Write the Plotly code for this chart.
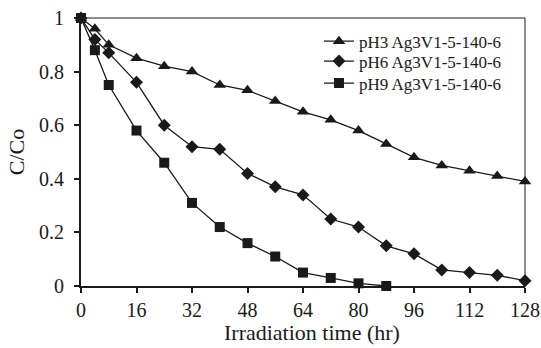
import plotly.graph_objects as go

time_ph3 = [0, 4, 8, 16, 24, 32, 40, 48, 56, 64, 72, 80, 88, 96, 104, 112, 120, 128]
ph3 = [1, 0.96, 0.9, 0.85, 0.82, 0.8, 0.75, 0.73, 0.69, 0.65, 0.62, 0.58, 0.53, 0.48, 0.45, 0.43, 0.41, 0.39]
time_ph6 = [0, 4, 8, 16, 24, 32, 40, 48, 56, 64, 72, 80, 88, 96, 104, 112, 120, 128]
ph6 = [1, 0.92, 0.87, 0.76, 0.6, 0.52, 0.51, 0.42, 0.37, 0.34, 0.25, 0.22, 0.15, 0.12, 0.06, 0.05, 0.04, 0.02]
time_ph9 = [0, 4, 8, 16, 24, 32, 40, 48, 56, 64, 72, 80, 88]
ph9 = [1, 0.88, 0.75, 0.58, 0.46, 0.31, 0.22, 0.16, 0.11, 0.05, 0.03, 0.01, 0]

x_ticks = [0, 16, 32, 48, 64, 80, 96, 112, 128]
y_ticks = [0, 0.2, 0.4, 0.6, 0.8, 1]
y_ticklabels = ["0", "0.2", "0.4", "0.6", "0.8", "1"]

names = ["pH3 Ag3V1-5-140-6", "pH6 Ag3V1-5-140-6", "pH9 Ag3V1-5-140-6"]
FONT = "Liberation Serif"
col = "#1a1a1a"

legend_ids = ["legend", "legend2", "legend3"]
legend_y = [0.912, 0.8375, 0.7555]

fig = go.Figure()
for t, y, n, sym, sz, lg in [
    (time_ph3, ph3, names[0], "triangle-up", 11, legend_ids[0]),
    (time_ph6, ph6, names[1], "diamond", 10, legend_ids[1]),
    (time_ph9, ph9, names[2], "square", 10, legend_ids[2]),
]:
    fig.add_trace(go.Scatter(
        x=t, y=y, name=n, mode="lines+markers",
        line=dict(color=col, width=1.3),
        marker=dict(symbol=sym, size=sz, color=col),
        cliponaxis=False, legend=lg,
    ))

# top and right frame lines
fig.add_shape(type="line", xref="paper", yref="paper", x0=0, x1=1, y0=1, y1=1,
              line=dict(color=col, width=1))
fig.add_shape(type="line", xref="paper", yref="paper", x0=1, x1=1, y0=0, y1=1,
              line=dict(color=col, width=1))

leg_common = dict(x=0.536, xanchor="left", yanchor="middle",
                  bgcolor="rgba(0,0,0,0)", font=dict(size=17, family=FONT, color=col),
                  itemwidth=30)

fig.update_layout(
    width=541, height=348,
    margin=dict(l=81, r=16, t=18, b=62, autoexpand=False),
    paper_bgcolor="white", plot_bgcolor="white",
    font=dict(family=FONT, color=col, size=20),
    showlegend=True,
    legend=dict(y=legend_y[0], **leg_common),
    legend2=dict(y=legend_y[1], **leg_common),
    legend3=dict(y=legend_y[2], **leg_common),
    xaxis=dict(range=[0, 128], tickvals=x_ticks, ticks="outside", ticklen=5,
               tickwidth=1.5, tickcolor=col, showline=True, linecolor=col,
               linewidth=2, showgrid=False, zeroline=False, automargin=False,
               tickfont=dict(size=20)),
    yaxis=dict(range=[0, 1], tickvals=y_ticks, ticktext=y_ticklabels, ticks="outside",
               ticklen=5, tickwidth=1.5, tickcolor=col, showline=True, linecolor=col,
               linewidth=2, showgrid=False, zeroline=False, automargin=False,
               tickfont=dict(size=20), ticklabelstandoff=6,
               title=dict(text="C/Co", font=dict(size=22), standoff=8)),
    annotations=[dict(text="Irradiation time (hr)", xref="paper", yref="paper",
                      x=0.52, y=-0.229, xanchor="center", yanchor="bottom",
                      showarrow=False, font=dict(size=22, family=FONT, color=col))],
)

fig.write_html("out.html")
